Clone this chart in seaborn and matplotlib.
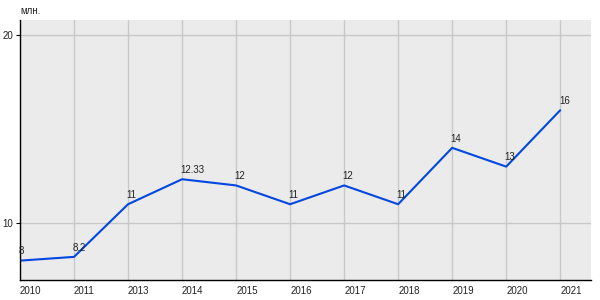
import matplotlib
matplotlib.use("Agg")
import matplotlib.pyplot as plt
import seaborn as sns
import pandas as pd

years = ["2010", "2011", "2013", "2014", "2015", "2016", "2017", "2018", "2019", "2020", "2021"]
values = [8, 8.2, 11, 12.33, 12, 11, 12, 11, 14, 13, 16]
labels = ["8", "8.2", "11", "12.33", "12", "11", "12", "11", "14", "13", "16"]
y_ticks = [10, 20]
unit = "млн."

sns.set_theme(style="whitegrid")
plt.rcParams["font.family"] = ["Liberation Sans", "DejaVu Sans"]

df = pd.DataFrame({"year": years, "value": values})

fig = plt.figure(figsize=(6, 3), dpi=100)
ax = fig.add_axes([20/600, 1-280/300, 571/600, 260/300])
ax.set_facecolor("#ebebeb")

sns.lineplot(data=df, x="year", y="value", ax=ax, color="#0048e0", linewidth=1.5, sort=False)

for i, (v, t) in enumerate(zip(values, labels)):
    ax.annotate(t, (i, v), xytext=(-1, 3), textcoords="offset points",
                fontsize=7, color="#222222", ha="left", va="bottom")

ax.set_xlim(0, 10.57)
ax.set_ylim(6.97, 20.8)
ax.set_yticks(y_ticks)
ax.set_yticklabels([str(t) for t in y_ticks])
ax.set_xlabel("")
ax.set_ylabel("")
ax.grid(True, color="#c8c8c8", linewidth=1)
ax.set_axisbelow(True)

for s in ["top", "right"]:
    ax.spines[s].set_visible(False)
for s in ["left", "bottom"]:
    ax.spines[s].set_visible(True)
    ax.spines[s].set_color("black")
    ax.spines[s].set_linewidth(1)

ax.tick_params(axis="y", which="both", left=True, length=3, width=0.8, color="black",
               labelsize=7, pad=2, labelcolor="#222222")
ax.tick_params(axis="x", which="both", bottom=False, length=0, labelsize=7, pad=4, labelcolor="#222222")
for lab in ax.get_xticklabels():
    lab.set_horizontalalignment("left")

fig.text(20/600, 1-14/300, unit, fontsize=7, color="#222222", ha="left", va="baseline")

fig.savefig("out.png", dpi=100)
